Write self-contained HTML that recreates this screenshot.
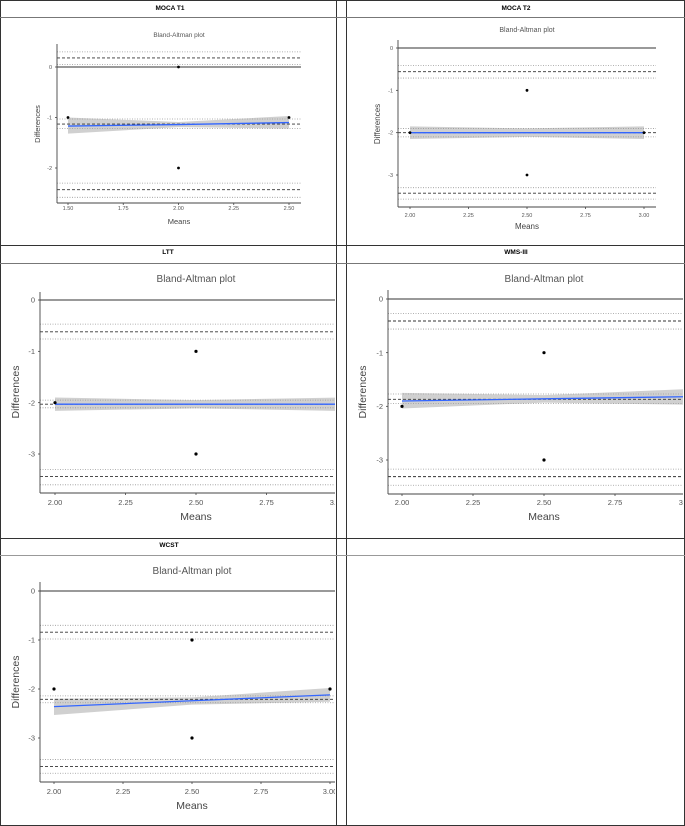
<!DOCTYPE html>
<html><head><meta charset="utf-8"><style>
html,body{margin:0;padding:0;background:#fff}
svg{display:block;font-family:"Liberation Sans",sans-serif}
</style></head><body>
<svg id="root" width="685" height="826" viewBox="0 0 685 826">
<defs>
<clipPath id="c1"><rect x="1" y="18" width="334" height="227"/></clipPath>
<clipPath id="c2"><rect x="347" y="18" width="336" height="227"/></clipPath>
<clipPath id="c3"><rect x="1" y="264" width="334" height="273"/></clipPath>
<clipPath id="c4"><rect x="347" y="264" width="336" height="273"/></clipPath>
<clipPath id="c5"><rect x="1" y="556" width="334" height="268"/></clipPath>
</defs>
<g stroke="#333" stroke-width="1" fill="none">
<rect x="0.5" y="0.5" width="684" height="825"/>
<line x1="336.5" y1="0" x2="336.5" y2="826"/>
<line x1="346.5" y1="0" x2="346.5" y2="826"/>
<line x1="0" y1="17.5" x2="685" y2="17.5" stroke="#777"/>
<line x1="0" y1="245.5" x2="685" y2="245.5"/>
<line x1="0" y1="263.5" x2="685" y2="263.5" stroke="#777"/>
<line x1="0" y1="538.5" x2="685" y2="538.5"/>
<line x1="0" y1="555.5" x2="685" y2="555.5" stroke="#999"/>
</g>
<g font-weight="bold" font-size="6.5" text-anchor="middle" fill="#000">
<text x="170" y="10">MOCA T1</text>
<text x="516" y="10">MOCA T2</text>
<text x="168" y="254">LTT</text>
<text x="516" y="254">WMS-III</text>
<text x="169" y="547">WCST</text>
</g>
</svg>
<script>
// ---- data ----
const panelNames = ["moca-t1","moca-t2","ltt","wms-iii","wcst"];
const xTicks1 = [1.5,1.75,2.0,2.25,2.5];
const xTicks2 = [2.0,2.25,2.5,2.75,3.0];
const yTicks1 = [0,-1,-2];
const yTicks2 = [0,-1,-2,-3];
const pointsX1 = [1.5,2.0,2.0,2.5];
const pointsY1 = [-1,0,-2,-1];
const pointsX2 = [2.0,2.5,2.5,3.0];
const pointsY2 = [-2,-1,-3,-2];
// limits: [upperLoA, upperCIhi, upperCIlo, mean, meanCIhi, meanCIlo, lowerLoA, lowerCIhi, lowerCIlo]
const limits1 = [0.18,0.3,0.05,-1.13,-1.03,-1.22,-2.43,-2.3,-2.58];
const limits2 = [-0.56,-0.41,-0.71,-2.0,-1.9,-2.1,-3.43,-3.3,-3.57];
const limits3 = [-0.62,-0.47,-0.76,-2.03,-1.95,-2.1,-3.44,-3.3,-3.6];
const limits4 = [-0.41,-0.27,-0.56,-1.87,-1.77,-1.95,-3.31,-3.17,-3.47];
const limits5 = [-0.84,-0.7,-0.98,-2.21,-2.14,-2.28,-3.58,-3.44,-3.72];
// regression: x range, fitted values at start/end, band hi/lo at start/mid/end
const regX1 = [1.5,2.0,2.5], regY1 = [-1.17,-1.14,-1.1], bandHi1 = [-1.0,-1.09,-0.97], bandLo1 = [-1.32,-1.19,-1.22];
const regX2 = [2.0,2.5,3.0], regY2 = [-2,-2,-2], bandHi2 = [-1.85,-1.9,-1.85], bandLo2 = [-2.15,-2.1,-2.15];
const regX3 = [2.0,2.5,3.0], regY3 = [-2.03,-2.03,-2.03], bandHi3 = [-1.9,-1.95,-1.9], bandLo3 = [-2.16,-2.11,-2.16];
const regX4 = [2.0,2.5,3.0], regY4 = [-1.9,-1.86,-1.82], bandHi4 = [-1.75,-1.79,-1.68], bandLo4 = [-2.04,-1.93,-1.97];
const regX5 = [2.0,2.5,3.0], regY5 = [-2.36,-2.24,-2.12], bandHi5 = [-2.2,-2.17,-1.98], bandLo5 = [-2.53,-2.32,-2.26];

const NS="http://www.w3.org/2000/svg";
const root=document.getElementById('root');
function mk(tag,attrs,parent){const e=document.createElementNS(NS,tag);for(const k in attrs)e.setAttribute(k,attrs[k]);(parent||root).appendChild(e);return e;}

const layouts=[
 {clip:"c1",ax:57,top:44,bot:203,right:301,x0:1.5,px0:68,x1:2.5,px1:289,y0:0,py0:67,y1:-2,py1:168,title:[179,37],xl:210,means:[179,224],diff:[40,124],fs:[5.5,6.5,7.5],dot:1.4,xTicks:xTicks1,yTicks:yTicks1,px:pointsX1,py:pointsY1,lim:limits1,rx:regX1,ry:regY1,bh:bandHi1,bl:bandLo1,xfmt:2},
 {clip:"c2",ax:398,top:40,bot:207,right:656,x0:2,px0:410,x1:3,px1:644,y0:0,py0:48,y1:-3,py1:175,title:[527,32],xl:217,means:[527,229],diff:[380,124],fs:[5.5,7,8],dot:1.4,xTicks:xTicks2,yTicks:yTicks2,px:pointsX2,py:pointsY2,lim:limits2,rx:regX2,ry:regY2,bh:bandHi2,bl:bandLo2,xfmt:2},
 {clip:"c3",ax:40,top:292,bot:493,right:400,x0:2,px0:55,x1:2.5,px1:196,y0:0,py0:300,y1:-3,py1:454,title:[196,282],xl:505,means:[196,520],diff:[19,392],fs:[7.5,10,10.5],dot:1.6,xTicks:xTicks2,yTicks:yTicks2,px:pointsX2,py:pointsY2,lim:limits3,rx:regX3,ry:regY3,bh:bandHi3,bl:bandLo3,xfmt:2},
 {clip:"c4",ax:388,top:290,bot:494,right:700,x0:2,px0:402,x1:2.5,px1:544,y0:0,py0:299,y1:-3,py1:460,title:[544,282],xl:505,means:[544,520],diff:[366,392],fs:[7.5,10,10.5],dot:1.6,xTicks:xTicks2,yTicks:yTicks2,px:pointsX2,py:pointsY2,lim:limits4,rx:regX4,ry:regY4,bh:bandHi4,bl:bandLo4,xfmt:2},
 {clip:"c5",ax:40,top:582,bot:782,right:400,x0:2,px0:54,x1:3,px1:330,y0:0,py0:591,y1:-3,py1:738,title:[192,574],xl:794,means:[192,809],diff:[19,682],fs:[7.5,10,10.5],dot:1.6,xTicks:xTicks2,yTicks:yTicks2,px:pointsX2,py:pointsY2,lim:limits5,rx:regX5,ry:regY5,bh:bandHi5,bl:bandLo5,xfmt:2}
];

layouts.forEach((L,i)=>{
 const sx=v=>L.px0+(v-L.x0)*(L.px1-L.px0)/(L.x1-L.x0);
 const sy=v=>L.py0+(v-L.y0)*(L.py1-L.py0)/(L.y1-L.y0);
 const g=mk('g',{'clip-path':'url(#'+L.clip+')'});
 
 
 const t=mk('text',{x:L.title[0],y:L.title[1],'font-size':L.fs[1],'text-anchor':'middle',fill:'#555'},g);
 t.textContent='Bland-Altman plot';
 
 
 // band
 const pts=[];
 for(let k=0;k<L.rx.length;k++)pts.push(sx(L.rx[k])+','+sy(L.bh[k]));
 for(let k=L.rx.length-1;k>=0;k--)pts.push(sx(L.rx[k])+','+sy(L.bl[k]));
 const band=mk('polygon',{points:pts.join(' '),fill:'#c8c8c8','fill-opacity':0.85},g);
 
 
 // limit lines
 const right=L.right;
 L.lim.forEach((v,k)=>{
  const dashed=(k%3===0);
  const ln=mk('line',{x1:L.ax,x2:right,y1:sy(v),y2:sy(v),stroke:dashed?'#333':'#999','stroke-width':dashed?0.9:0.8,'stroke-dasharray':dashed?'3,2':'1,1.5'},g);
  
  
 });
 // zero line
 const z=mk('line',{x1:L.ax,x2:right,y1:sy(0),y2:sy(0),stroke:'#333','stroke-width':1},g);
 
 
 // regression
 const rp=L.rx.map((x,k)=>sx(x)+','+sy(L.ry[k])).join(' ');
 const rl=mk('polyline',{points:rp,fill:'none',stroke:'#3366ff','stroke-width':1.3},g);
 
 
 // points
 L.px.forEach((x,k)=>{
  const c=mk('circle',{cx:sx(x),cy:sy(L.py[k]),r:L.dot,fill:'#000'},g);
  
  
 });
 // axes
 const ya=mk('line',{x1:L.ax,x2:L.ax,y1:L.top,y2:L.bot,stroke:'#444','stroke-width':0.9},g);
 
 
 const xa=mk('line',{x1:L.ax,x2:right,y1:L.bot,y2:L.bot,stroke:'#444','stroke-width':0.9},g);
 
 
 L.yTicks.forEach(v=>{
  mk('line',{x1:L.ax-2,x2:L.ax,y1:sy(v),y2:sy(v),stroke:'#444','stroke-width':0.8},g);
  const tt=mk('text',{x:L.ax-5,y:sy(v)+L.fs[0]*0.35,'font-size':L.fs[0],'text-anchor':'end',fill:'#555'},g);
  tt.textContent=String(v);
  
  
 });
 L.xTicks.forEach(v=>{
  mk('line',{x1:sx(v),x2:sx(v),y1:L.bot,y2:L.bot+2,stroke:'#444','stroke-width':0.8},g);
  const tt=mk('text',{x:sx(v),y:L.xl,'font-size':L.fs[0],'text-anchor':'middle',fill:'#555'},g);
  tt.textContent=v.toFixed(L.xfmt);
  
  
 });
 const mt=mk('text',{x:L.means[0],y:L.means[1],'font-size':L.fs[2],'text-anchor':'middle',fill:'#444'},g);
 mt.textContent='Means';
 
 
 const dt=mk('text',{x:L.diff[0],y:L.diff[1],'font-size':L.fs[2],'text-anchor':'middle',fill:'#444',transform:'rotate(-90 '+L.diff[0]+' '+L.diff[1]+')'},g);
 dt.textContent='Differences';
 
 
});
</script>
</body></html>
